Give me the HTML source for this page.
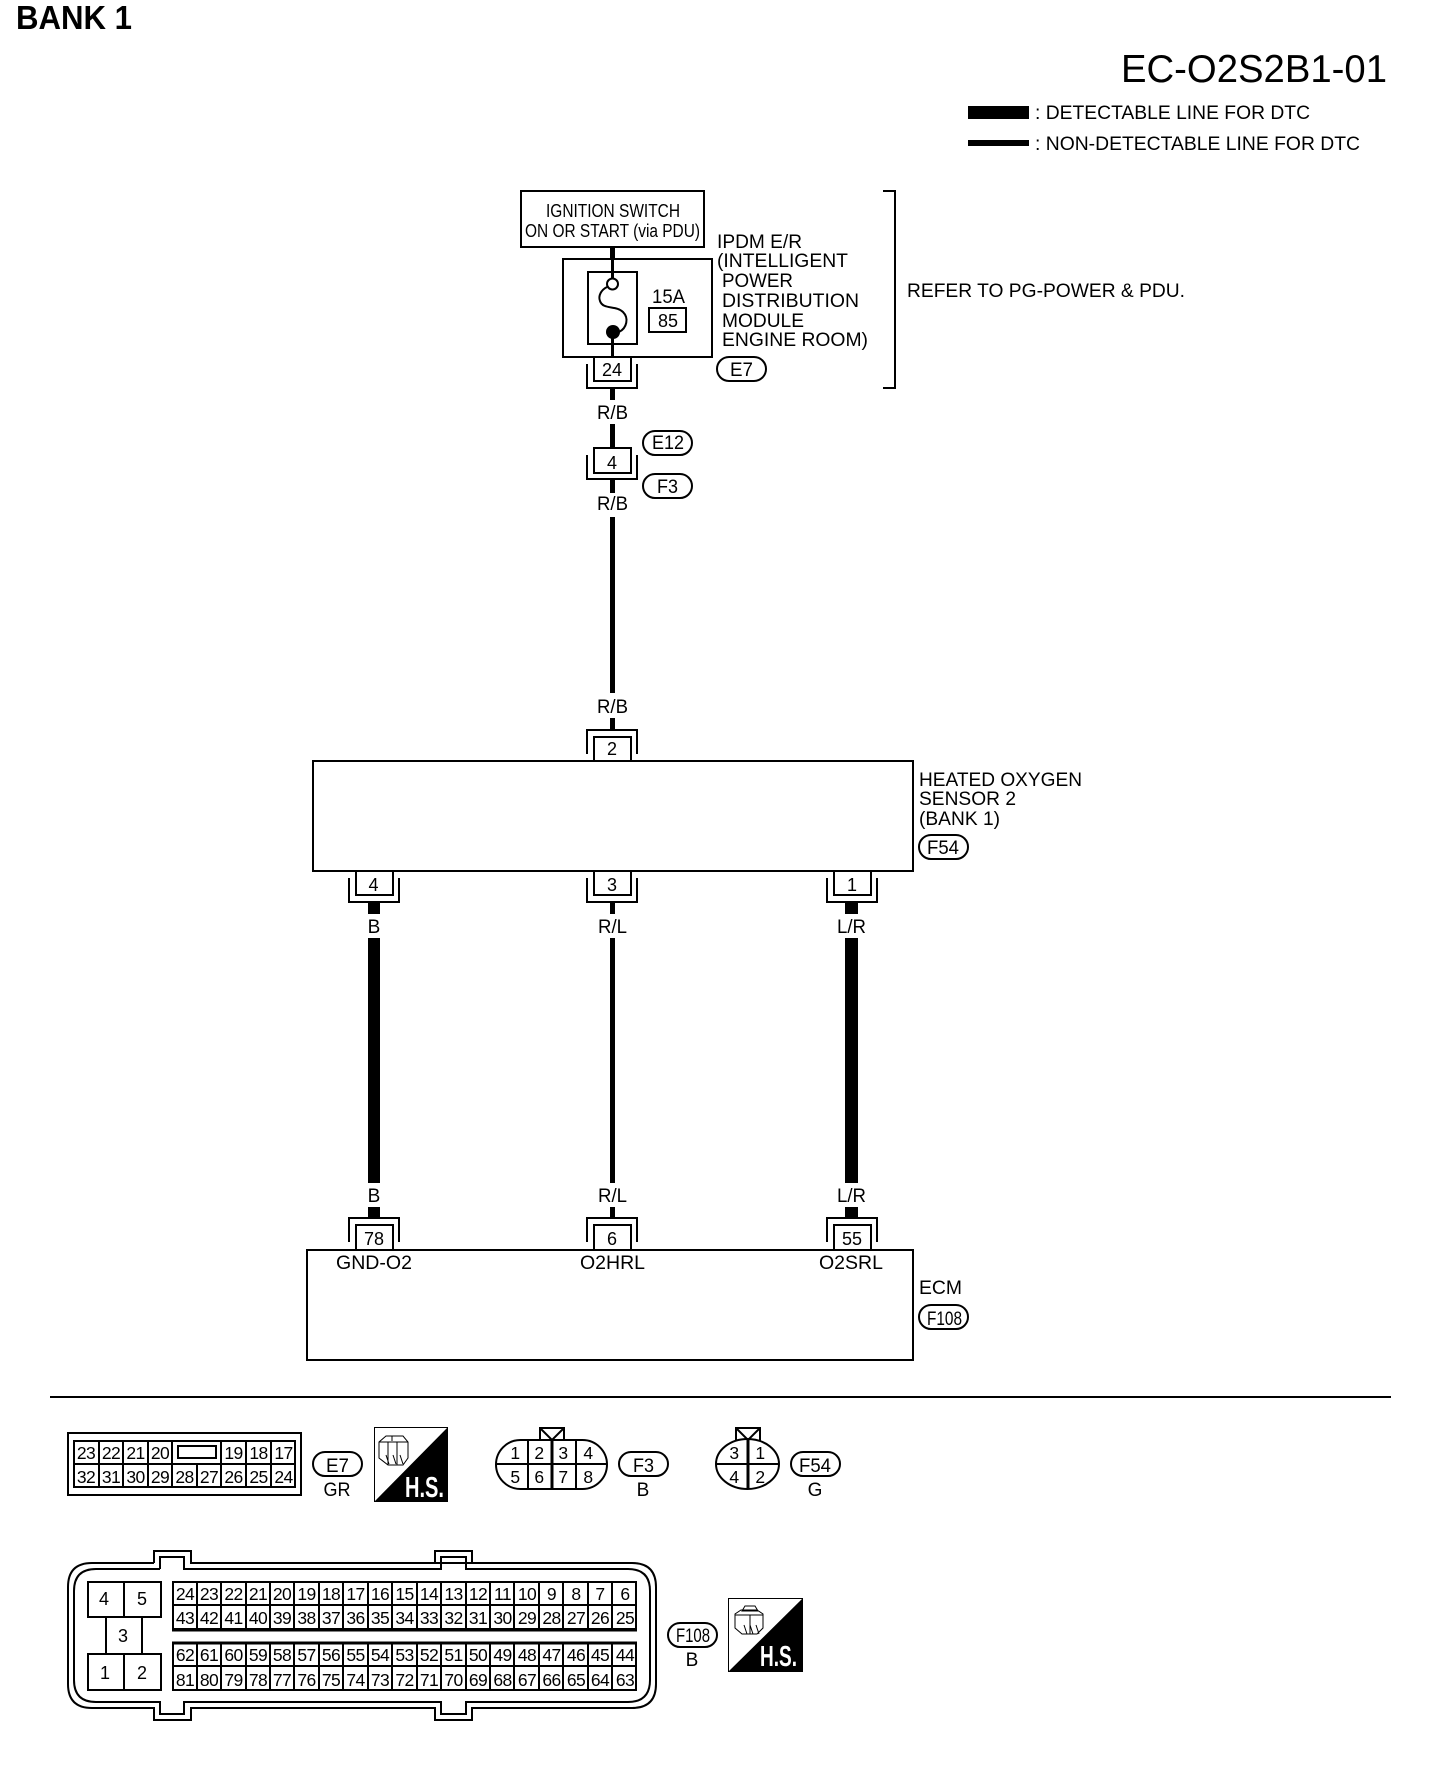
<!DOCTYPE html>
<html><head><meta charset="utf-8"><title>EC-O2S2B1-01</title>
<style>
html,body{margin:0;padding:0;background:#fff}
svg{display:block}
text{font-family:"Liberation Sans",Arial,sans-serif;font-size:19px;fill:#000}
.m{text-anchor:middle}
.p text{font-size:17.5px;text-anchor:middle;letter-spacing:-.6px}
.n{font-size:18px;text-anchor:middle}
.l{fill:none;stroke:#000;stroke-width:2}
.c path,.c rect,.c line{fill:none;stroke:#000;stroke-width:2}
</style></head><body>
<svg xmlns="http://www.w3.org/2000/svg" width="1440" height="1790" viewBox="0 0 1440 1790">
<rect width="1440" height="1790" fill="#fff"/>
<defs>
<g id="cd" class="c" shape-rendering="crispEdges"><path d="M-18 0V23H19V0"/><path d="M-25 6V30H25V6"/></g>
<g id="cu" class="c" shape-rendering="crispEdges"><path d="M-18 0V-24H19V0"/><path d="M-25 -7V-31H25V-7"/></g>
</defs>

<text x="16" y="29" style="font-size:33px;font-weight:bold" textLength="116" lengthAdjust="spacingAndGlyphs">BANK 1</text>
<text x="1121" y="82" style="font-size:39px" textLength="266" lengthAdjust="spacingAndGlyphs">EC-O2S2B1-01</text>
<rect x="968" y="106" width="61" height="13"/>
<rect x="968" y="140" width="61" height="6"/>
<text x="1035" y="119" textLength="275" lengthAdjust="spacingAndGlyphs">: DETECTABLE LINE FOR DTC</text>
<text x="1035" y="150" textLength="325" lengthAdjust="spacingAndGlyphs">: NON-DETECTABLE LINE FOR DTC</text>
<text x="907" y="297" textLength="278" lengthAdjust="spacingAndGlyphs">REFER TO PG-POWER &amp; PDU.</text>

<!-- ignition -->
<g class="c" shape-rendering="crispEdges">
<rect x="521" y="191" width="183" height="56"/>
<rect x="563" y="259" width="149" height="98"/>
<rect x="588" y="272" width="49" height="72"/>
<rect x="649" y="308" width="37" height="24"/>
<path d="M883 191H895V388H883"/>
</g>
<text x="546" y="217" style="font-size:18px" textLength="134" lengthAdjust="spacingAndGlyphs">IGNITION SWITCH</text>
<text x="525" y="237" style="font-size:18px" textLength="175" lengthAdjust="spacingAndGlyphs">ON OR START (via PDU)</text>
<rect x="610" y="247" width="5" height="12"/>
<rect x="611" y="259" width="3" height="20"/>
<rect x="611" y="338" width="3" height="20"/>
<circle cx="612.5" cy="284" r="5.5" fill="#fff" stroke="#000" stroke-width="2"/>
<circle cx="613" cy="332" r="7"/>
<path class="l" d="M607 287C601 290 598 296 600 301C603 310 616 305 623 312C629 318 627 328 619 332"/>
<text x="652" y="303" textLength="33" lengthAdjust="spacingAndGlyphs">15A</text>
<text class="n" x="668" y="327">85</text>
<text x="717" y="248" textLength="85" lengthAdjust="spacingAndGlyphs">IPDM E/R</text>
<text x="717" y="267" textLength="131" lengthAdjust="spacingAndGlyphs">(INTELLIGENT</text>
<text x="722" y="287" textLength="71" lengthAdjust="spacingAndGlyphs">POWER</text>
<text x="722" y="307" textLength="137" lengthAdjust="spacingAndGlyphs">DISTRIBUTION</text>
<text x="722" y="327" textLength="82" lengthAdjust="spacingAndGlyphs">MODULE</text>
<text x="722" y="346" textLength="146" lengthAdjust="spacingAndGlyphs">ENGINE ROOM)</text>

<use href="#cd" x="612" y="358"/>
<text class="n" x="612" y="376">24</text>
<rect x="610" y="388" width="5" height="12"/>
<text x="597" y="419" textLength="31" lengthAdjust="spacingAndGlyphs">R/B</text>
<rect x="610" y="424" width="5" height="24"/>
<rect class="c" x="594" y="448" width="37" height="25" fill="none" stroke="#000" stroke-width="2" shape-rendering="crispEdges"/>
<path class="l" d="M587 455V479H637V455" shape-rendering="crispEdges"/>
<text class="n" x="612" y="469">4</text>
<rect x="610" y="480" width="5" height="13"/>
<text x="597" y="510" textLength="31" lengthAdjust="spacingAndGlyphs">R/B</text>
<rect x="610" y="517" width="5" height="176"/>
<text x="597" y="713" textLength="31" lengthAdjust="spacingAndGlyphs">R/B</text>
<rect x="610" y="718" width="5" height="11"/>
<use href="#cu" x="612" y="761"/>
<text class="n" x="612" y="755">2</text>

<!-- pills -->
<g class="c">
<rect x="717" y="357" width="49" height="24" rx="12"/>
<rect x="643" y="431" width="49" height="24" rx="12"/>
<rect x="643" y="474" width="49" height="24" rx="12"/>
<rect x="919" y="835" width="49" height="24" rx="12"/>
<rect x="919" y="1305" width="49" height="24" rx="12"/>
<rect x="313" y="1452" width="49" height="24" rx="12"/>
<rect x="619" y="1452" width="49" height="24" rx="12"/>
<rect x="791" y="1452" width="49" height="24" rx="12"/>
<rect x="668" y="1623" width="49" height="24" rx="12"/>
</g>
<text x="730" y="376" textLength="23" lengthAdjust="spacingAndGlyphs">E7</text>
<text x="652" y="449" textLength="32" lengthAdjust="spacingAndGlyphs">E12</text>
<text x="657" y="493" textLength="21" lengthAdjust="spacingAndGlyphs">F3</text>
<text x="927" y="854" textLength="32" lengthAdjust="spacingAndGlyphs">F54</text>
<text x="927" y="1325" textLength="35" lengthAdjust="spacingAndGlyphs">F108</text>
<text x="326" y="1472" textLength="23" lengthAdjust="spacingAndGlyphs">E7</text>
<text x="633" y="1472" textLength="21" lengthAdjust="spacingAndGlyphs">F3</text>
<text x="799" y="1472" textLength="32" lengthAdjust="spacingAndGlyphs">F54</text>
<text x="676" y="1642" textLength="34" lengthAdjust="spacingAndGlyphs">F108</text>

<!-- sensor box -->
<rect class="c" x="313" y="761" width="600" height="110" fill="none" stroke="#000" stroke-width="2" shape-rendering="crispEdges"/>
<text x="919" y="786" textLength="163" lengthAdjust="spacingAndGlyphs">HEATED OXYGEN</text>
<text x="919" y="805" textLength="97" lengthAdjust="spacingAndGlyphs">SENSOR 2</text>
<text x="919" y="825" textLength="81" lengthAdjust="spacingAndGlyphs">(BANK 1)</text>

<use href="#cd" x="374" y="872"/><use href="#cd" x="612" y="872"/><use href="#cd" x="852" y="872"/>
<text class="n" x="373.5" y="891">4</text><text class="n" x="612" y="891">3</text><text class="n" x="852" y="891">1</text>

<rect x="368" y="902" width="12" height="12"/>
<rect x="368" y="938" width="12" height="245"/>
<rect x="368" y="1207" width="12" height="12"/>
<rect x="610" y="902" width="5" height="12"/>
<rect x="610" y="938" width="5" height="245"/>
<rect x="610" y="1207" width="5" height="12"/>
<rect x="845" y="902" width="13" height="12"/>
<rect x="845" y="938" width="13" height="245"/>
<rect x="845" y="1207" width="13" height="12"/>
<text class="m" x="374" y="933">B</text>
<text x="598" y="933" textLength="29" lengthAdjust="spacingAndGlyphs">R/L</text>
<text x="837" y="933" textLength="29" lengthAdjust="spacingAndGlyphs">L/R</text>
<text class="m" x="374" y="1202">B</text>
<text x="598" y="1202" textLength="29" lengthAdjust="spacingAndGlyphs">R/L</text>
<text x="837" y="1202" textLength="29" lengthAdjust="spacingAndGlyphs">L/R</text>

<use href="#cu" x="374" y="1249"/><use href="#cu" x="612" y="1249"/><use href="#cu" x="852" y="1249"/>
<text class="n" x="374" y="1245">78</text><text class="n" x="612" y="1245">6</text><text class="n" x="852" y="1245">55</text>

<!-- ECM -->
<rect class="c" x="307" y="1250" width="606" height="110" fill="none" stroke="#000" stroke-width="2" shape-rendering="crispEdges"/>
<text x="336" y="1269" textLength="76" lengthAdjust="spacingAndGlyphs">GND-O2</text>
<text x="580" y="1269" textLength="65" lengthAdjust="spacingAndGlyphs">O2HRL</text>
<text x="819" y="1269" textLength="64" lengthAdjust="spacingAndGlyphs">O2SRL</text>
<text x="919" y="1294" textLength="43" lengthAdjust="spacingAndGlyphs">ECM</text>

<rect x="50" y="1396" width="1341" height="2"/>

<!-- E7 connector -->
<g class="c" shape-rendering="crispEdges">
<rect x="68" y="1433" width="233" height="62"/>
<rect x="74" y="1441" width="221" height="46"/>
<path d="M74 1464H295M99 1441V1487M123 1441V1487M148 1441V1487M172 1441V1487M197 1464V1487M221 1441V1487M246 1441V1487M271 1441V1487"/>
<rect x="178" y="1446" width="38" height="12"/>
</g>
<g class="p">
<text x="86" y="1459">23</text><text x="111" y="1459">22</text><text x="135.500" y="1459">21</text><text x="160" y="1459">20</text><text x="233.500" y="1459">19</text><text x="258.500" y="1459">18</text><text x="283.500" y="1459">17</text>
<text x="86" y="1483">32</text><text x="111" y="1483">31</text><text x="135.500" y="1483">30</text><text x="160" y="1483">29</text><text x="184.500" y="1483">28</text><text x="209" y="1483">27</text><text x="233.500" y="1483">26</text><text x="258.500" y="1483">25</text><text x="283.500" y="1483">24</text>
</g>
<text class="m" x="337" y="1496" textLength="27" lengthAdjust="spacingAndGlyphs">GR</text>

<!-- HS icon 1 -->
<rect x="374.500" y="1427.500" width="73" height="74" fill="#fff" stroke="#000"/>
<path d="M448 1427V1502H374Z"/>
<text x="405" y="1497" style="font-size:29px;font-weight:bold;fill:#fff" textLength="39" lengthAdjust="spacingAndGlyphs">H.S.</text>
<path d="M379 1442V1458L388 1465H403L408 1458V1442L403 1436H386L379 1442ZM379 1442H397L408 1442M397 1442V1465M388 1442V1465M392 1436V1441M386 1455L389 1464M393 1455L396 1464M400 1455L403 1464" fill="none" stroke="#000" stroke-width="1"/>

<!-- F3 -->
<g class="c">
<rect x="496" y="1440" width="111" height="49" rx="24.500"/>
<path d="M496 1464H607M528 1440V1489M576 1440V1489"/>
<path d="M552 1440V1489" style="stroke-width:3"/>
<path d="M540 1440V1428H564V1440M540 1428L552 1440L564 1428"/>
</g>
<g class="p">
<text x="515" y="1459">1</text><text x="539" y="1459">2</text><text x="563" y="1459">3</text><text x="588" y="1459">4</text>
<text x="515" y="1483">5</text><text x="539" y="1483">6</text><text x="563" y="1483">7</text><text x="588" y="1483">8</text>
</g>
<text class="m" x="643" y="1496">B</text>

<!-- F54 -->
<g class="c">
<path d="M716 1464A31.500 25 0 0 1 779 1464A31.500 25 0 0 1 716 1464ZM716 1464H779"/>
<path d="M748 1439V1489" style="stroke-width:3"/>
<path d="M736 1441V1428H760V1441M736 1428L748 1440L760 1428"/>
</g>
<g class="p">
<text x="734" y="1459">3</text><text x="760" y="1459">1</text><text x="734" y="1483">4</text><text x="760" y="1483">2</text>
</g>
<text class="m" x="815" y="1496">G</text>

<!-- F108 connector -->
<g class="c">
<path d="M154 1563V1551H191V1563H472 M472 1563V1551H435V1563M472 1563H632Q656 1563 656 1587V1684Q656 1708 632 1708H472V1720H435V1708H191V1720H154V1708H92Q68 1708 68 1684V1587Q68 1563 92 1563H154"/>
<path d="M160 1569V1557H184V1569H441V1557H466V1569H628Q650 1569 650 1591V1680Q650 1702 628 1702H466V1714H441V1702H184V1714H160V1702H96Q74 1702 74 1680V1591Q74 1569 96 1569H160"/>
</g>
<g class="c" shape-rendering="crispEdges">
<rect x="88" y="1582" width="36" height="35"/><rect x="124" y="1582" width="37" height="35"/>
<rect x="106" y="1617" width="36" height="37"/>
<rect x="88" y="1654" width="36" height="36"/><rect x="124" y="1654" width="37" height="36"/>
<path d="M173 1582H636V1629H173ZM173 1605H636M173 1643H636V1690H173ZM173 1666H636"/>
<path d="M172 1630H637M172 1643H637" style="stroke-width:3"/>
<path d="M197 1582V1629M221 1582V1629M246 1582V1629M270 1582V1629M294 1582V1629M319 1582V1629M343 1582V1629M368 1582V1629M392 1582V1629M417 1582V1629M441 1582V1629M466 1582V1629M490 1582V1629M514 1582V1629M539 1582V1629M563 1582V1629M588 1582V1629M612 1582V1629"/>
<path d="M197 1643V1690M221 1643V1690M246 1643V1690M270 1643V1690M294 1643V1690M319 1643V1690M343 1643V1690M368 1643V1690M392 1643V1690M417 1643V1690M441 1643V1690M466 1643V1690M490 1643V1690M514 1643V1690M539 1643V1690M563 1643V1690M588 1643V1690M612 1643V1690"/>
</g>
<text class="n" x="104" y="1605">4</text><text class="n" x="142" y="1605">5</text><text class="n" x="123" y="1642">3</text><text class="n" x="105" y="1679">1</text><text class="n" x="142" y="1679">2</text>
<g class="p">
<text x="185" y="1600">24</text><text x="209" y="1600">23</text><text x="233.500" y="1600">22</text><text x="258" y="1600">21</text><text x="282" y="1600">20</text><text x="306.500" y="1600">19</text><text x="331" y="1600">18</text><text x="355.500" y="1600">17</text><text x="380" y="1600">16</text><text x="404.500" y="1600">15</text><text x="429" y="1600">14</text><text x="453.500" y="1600">13</text><text x="478" y="1600">12</text><text x="502.500" y="1600">11</text><text x="527" y="1600">10</text><text x="551.500" y="1600">9</text><text x="576" y="1600">8</text><text x="600" y="1600">7</text><text x="625" y="1600">6</text>
<text x="185" y="1624">43</text><text x="209" y="1624">42</text><text x="233.500" y="1624">41</text><text x="258" y="1624">40</text><text x="282" y="1624">39</text><text x="306.500" y="1624">38</text><text x="331" y="1624">37</text><text x="355.500" y="1624">36</text><text x="380" y="1624">35</text><text x="404.500" y="1624">34</text><text x="429" y="1624">33</text><text x="453.500" y="1624">32</text><text x="478" y="1624">31</text><text x="502.500" y="1624">30</text><text x="527" y="1624">29</text><text x="551.500" y="1624">28</text><text x="576" y="1624">27</text><text x="600" y="1624">26</text><text x="625" y="1624">25</text>
<text x="185" y="1661">62</text><text x="209" y="1661">61</text><text x="233.500" y="1661">60</text><text x="258" y="1661">59</text><text x="282" y="1661">58</text><text x="306.500" y="1661">57</text><text x="331" y="1661">56</text><text x="355.500" y="1661">55</text><text x="380" y="1661">54</text><text x="404.500" y="1661">53</text><text x="429" y="1661">52</text><text x="453.500" y="1661">51</text><text x="478" y="1661">50</text><text x="502.500" y="1661">49</text><text x="527" y="1661">48</text><text x="551.500" y="1661">47</text><text x="576" y="1661">46</text><text x="600" y="1661">45</text><text x="625" y="1661">44</text>
<text x="185" y="1686">81</text><text x="209" y="1686">80</text><text x="233.500" y="1686">79</text><text x="258" y="1686">78</text><text x="282" y="1686">77</text><text x="306.500" y="1686">76</text><text x="331" y="1686">75</text><text x="355.500" y="1686">74</text><text x="380" y="1686">73</text><text x="404.500" y="1686">72</text><text x="429" y="1686">71</text><text x="453.500" y="1686">70</text><text x="478" y="1686">69</text><text x="502.500" y="1686">68</text><text x="527" y="1686">67</text><text x="551.500" y="1686">66</text><text x="576" y="1686">65</text><text x="600" y="1686">64</text><text x="625" y="1686">63</text>
</g>
<text class="m" x="692" y="1666">B</text>

<!-- HS icon 2 -->
<rect x="728.500" y="1598.500" width="74" height="73" fill="#fff" stroke="#000"/>
<path d="M803 1598V1672H728Z"/>
<text x="760" y="1666" style="font-size:29px;font-weight:bold;fill:#fff" textLength="37" lengthAdjust="spacingAndGlyphs">H.S.</text>
<path d="M735 1614V1628L742 1634H757L763 1628V1614L757 1610H741L735 1614ZM735 1615H763M750 1615V1634M745 1606H755L758 1611H742L745 1606ZM744 1625L747 1634M750 1625L753 1634M756 1625L759 1634" fill="none" stroke="#000" stroke-width="1"/>
</svg>
</body></html>
